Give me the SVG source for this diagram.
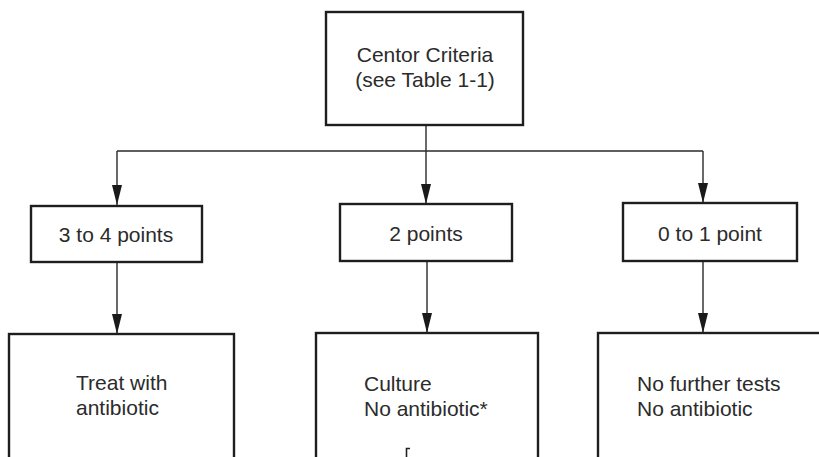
<svg xmlns="http://www.w3.org/2000/svg" width="819" height="457" viewBox="0 0 819 457">
  <style>
    .box { fill: #fff; stroke: #1e1e1e; stroke-width: 2.4; }
    .wire { fill: none; stroke: #2a2a2a; stroke-width: 1.4; }
    .lbl { font-family: "Liberation Sans", Arial, sans-serif; font-size: 21px; fill: #2b2b2b; }
    .mid { text-anchor: middle; }
  </style>
  <defs>
    <marker id="arrow" markerUnits="userSpaceOnUse" markerWidth="20" markerHeight="10" refX="20" refY="5" orient="auto" viewBox="0 0 20 10">
      <path d="M0,0 L20,5 L0,10 Z" fill="#1a1a1a"/>
    </marker>
  </defs>
  <rect width="819" height="457" fill="#fff"/>

  <!-- connectors -->
  <g id="connectors">
    <path class="wire" d="M426,125 V151"/>
    <path class="wire" d="M117,151 H703"/>
    <path class="wire" d="M117,151 V205" marker-end="url(#arrow)"/>
    <path class="wire" d="M426,151 V204" marker-end="url(#arrow)"/>
    <path class="wire" d="M703,151 V203" marker-end="url(#arrow)"/>
    <path class="wire" d="M117,262 V334" marker-end="url(#arrow)"/>
    <path class="wire" d="M427,261 V333" marker-end="url(#arrow)"/>
    <path class="wire" d="M703,261 V333" marker-end="url(#arrow)"/>
  </g>

  <!-- criteria -->
  <g id="criteria">
    <rect class="box" x="326" y="12" width="197" height="113"/>
    <text class="lbl mid" x="425" y="62">Centor Criteria</text>
    <text class="lbl mid" x="425" y="87">(see Table 1-1)</text>
  </g>

  <!-- score bands -->
  <g id="score-high">
    <rect class="box" x="31" y="206" width="171" height="56"/>
    <text class="lbl mid" x="116" y="242">3 to 4 points</text>
  </g>
  <g id="score-mid">
    <rect class="box" x="340" y="204" width="172" height="57"/>
    <text class="lbl mid" x="426" y="241">2 points</text>
  </g>
  <g id="score-low">
    <rect class="box" x="623" y="203" width="174" height="58"/>
    <text class="lbl mid" x="710" y="241">0 to 1 point</text>
  </g>

  <!-- actions -->
  <g id="action-treat">
    <rect class="box" x="9" y="334" width="225" height="140"/>
    <text class="lbl" x="76" y="390">Treat with</text>
    <text class="lbl" x="76" y="415">antibiotic</text>
  </g>
  <g id="action-culture">
    <rect class="box" x="316" y="333" width="222" height="140"/>
    <text class="lbl" x="364" y="391">Culture</text>
    <text class="lbl" x="364" y="416">No antibiotic*</text>
    <path d="M406.5,458 V448.5 H410" fill="none" stroke="#222" stroke-width="1.6"/>
  </g>
  <g id="action-none">
    <rect class="box" x="598" y="333" width="240" height="140"/>
    <text class="lbl" x="637" y="391">No further tests</text>
    <text class="lbl" x="637" y="416">No antibiotic</text>
  </g>
</svg>
